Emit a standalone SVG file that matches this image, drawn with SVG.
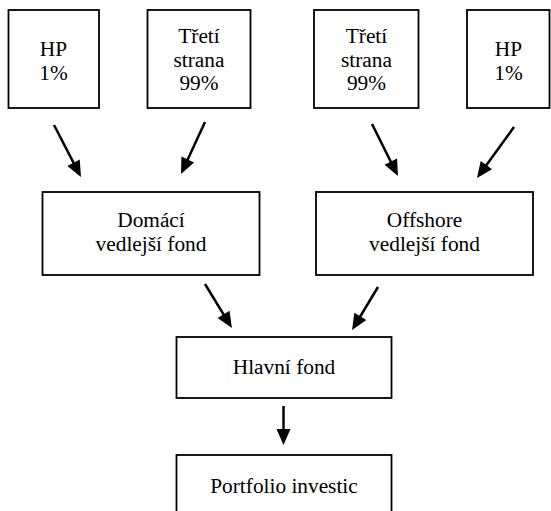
<svg xmlns="http://www.w3.org/2000/svg" width="551" height="511" viewBox="0 0 551 511">
  <style>
    .box { fill: #ffffff; stroke: #000000; stroke-width: 1.8; }
    .lbl { font-size: 21.33px; fill: #000000; text-anchor: middle; }
    .arr { stroke: #000000; stroke-width: 2.5; fill: none; marker-end: url(#head); }
  </style>
  <defs>
    <marker id="head" markerUnits="userSpaceOnUse" markerWidth="20" markerHeight="16" viewBox="0 -8 20 16" refX="2" refY="0" orient="auto" overflow="visible">
      <path d="M0,-7 L16,0 L0,7 z" fill="#000000"/>
    </marker>
  </defs>
  <rect width="551" height="511" fill="#ffffff"/>

  <g font-family="'Liberation Serif', 'DejaVu Serif', 'Times New Roman', serif">
  <g id="hp-left">
    <rect class="box" x="8.5" y="10" width="90.5" height="98"/>
    <text class="lbl" x="53.5" y="56">HP</text>
    <text class="lbl" x="53.5" y="79.5">1%</text>
  </g>
  <g id="treti-left">
    <rect class="box" x="147.5" y="10" width="103" height="98"/>
    <text class="lbl" x="199" y="43">Třetí</text>
    <text class="lbl" x="199" y="66.5">strana</text>
    <text class="lbl" x="199" y="90">99%</text>
  </g>
  <g id="treti-right">
    <rect class="box" x="314" y="10" width="104.5" height="98"/>
    <text class="lbl" x="366.5" y="43">Třetí</text>
    <text class="lbl" x="366.5" y="66.5">strana</text>
    <text class="lbl" x="366.5" y="90">99%</text>
  </g>
  <g id="hp-right">
    <rect class="box" x="467" y="10" width="82.5" height="98"/>
    <text class="lbl" x="508.5" y="56">HP</text>
    <text class="lbl" x="508.5" y="79.5">1%</text>
  </g>
  <g id="domaci">
    <rect class="box" x="42.5" y="192" width="217" height="83"/>
    <text class="lbl" x="151" y="227">Domácí</text>
    <text class="lbl" x="151" y="251">vedlejší fond</text>
  </g>
  <g id="offshore">
    <rect class="box" x="316" y="192" width="217" height="83"/>
    <text class="lbl" x="424.5" y="227">Offshore</text>
    <text class="lbl" x="424.5" y="251">vedlejší fond</text>
  </g>
  <g id="hlavni">
    <rect class="box" x="176.5" y="337" width="215" height="61"/>
    <text class="lbl" x="284" y="374">Hlavní fond</text>
  </g>
  <g id="portfolio">
    <rect class="box" x="176.5" y="455" width="215" height="80"/>
    <text class="lbl" x="284" y="493">Portfolio investic</text>
  </g>
  </g>

  <g id="connectors">
    <line class="arr" x1="54" y1="125" x2="74.5" y2="164.6"/>
    <line class="arr" x1="205" y1="122" x2="186.9" y2="161.3"/>
    <line class="arr" x1="372" y1="124" x2="391.7" y2="163.5"/>
    <line class="arr" x1="514" y1="127" x2="485.2" y2="166.7"/>
    <line class="arr" x1="205" y1="284" x2="224.6" y2="316.1"/>
    <line class="arr" x1="378" y1="287" x2="359.3" y2="318"/>
    <line class="arr" x1="283.5" y1="406" x2="283.5" y2="431"/>
  </g>
</svg>
